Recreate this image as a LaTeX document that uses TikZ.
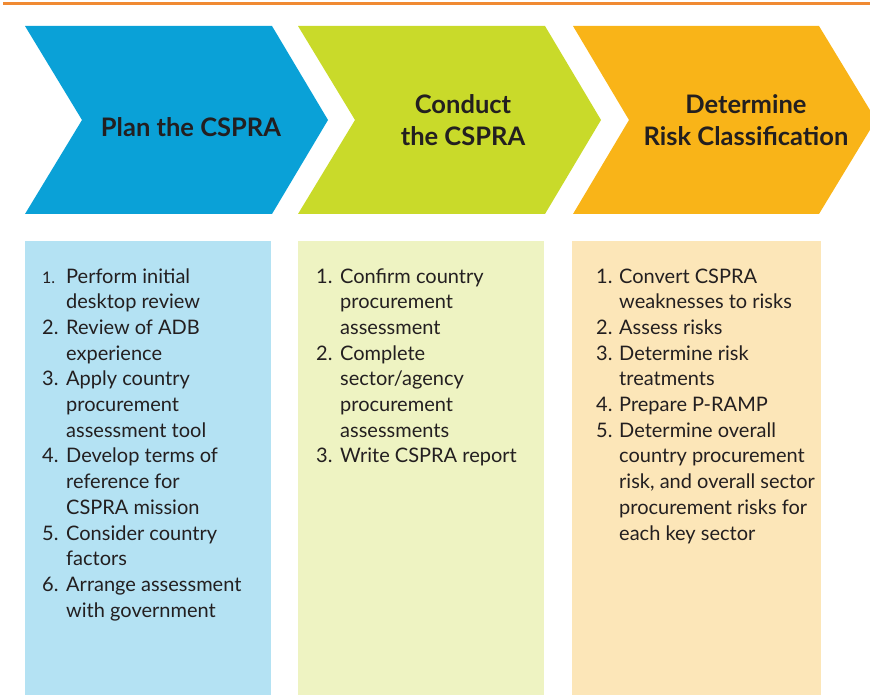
\documentclass[tikz,border=0pt]{standalone}
\usepackage{fontspec}
\setmainfont{Lato}
\definecolor{topline}{HTML}{F08A33}
\definecolor{cblue}{HTML}{0AA1D7}
\definecolor{cgreen}{HTML}{C9DA2A}
\definecolor{corange}{HTML}{F9B418}
\definecolor{lblue}{HTML}{B4E2F3}
\definecolor{lgreen}{HTML}{EEF3C2}
\definecolor{lorange}{HTML}{FCE6B8}
\definecolor{ink}{HTML}{231F20}
\begin{document}
\begin{tikzpicture}[x=1pt,y=-1pt,
  head/.style={align=center,text=ink,font=\bfseries\fontsize{25.5}{32}\selectfont,inner sep=0},
  listtext/.style={anchor=base west,inner sep=0,text=ink,font=\fontsize{20}{25.7}\selectfont}]
\useasboundingbox (0,0) rectangle (870,695);
\clip (0,0) rectangle (870,695);
\fill[topline] (3,2.5) rectangle (870,5.5);
% chevrons
\fill[cblue] (25,26) -- (272,26) -- (328,120) -- (272,214) -- (25,214) -- (82,120) -- cycle;
\fill[cgreen] (298,26) -- (545,26) -- (601,120) -- (545,214) -- (298,214) -- (355,120) -- cycle;
\fill[corange] (573,26) -- (819,26) -- (876,120) -- (819,214) -- (573,214) -- (629,120) -- cycle;
% boxes
\fill[lblue] (25,241) rectangle (271,700);
\fill[lgreen] (298,241) rectangle (544,700);
\fill[lorange] (572,241) rectangle (821,700);
% headings
\node[head] (h1) at (191,127) {Plan the CSPRA};
\node[head] (h2) at (463,120) {Conduct\\the CSPRA};
\node[head] (h3) at (746,120) {Determine\\Risk Classification};
% lists
\node[listtext] (l1) at (42,283) {\begin{tabular}[t]{@{}l@{}l@{}}
\makebox[24pt][l]{{\fontsize{16}{16}\selectfont 1.}} & Perform initial\\
 & desktop review\\
\makebox[24pt][l]{2.} & Review of ADB\\
 & experience\\
\makebox[24pt][l]{3.} & Apply country\\
 & procurement\\
 & assessment tool\\
\makebox[24pt][l]{4.} & Develop terms of\\
 & reference for\\
 & CSPRA mission\\
\makebox[24pt][l]{5.} & Consider country\\
 & factors\\
\makebox[24pt][l]{6.} & Arrange assessment\\
 & with government
\end{tabular}};
\node[listtext] (l2) at (316,283) {\begin{tabular}[t]{@{}l@{}l@{}}
\makebox[24pt][l]{1.} & Confirm country\\
 & procurement\\
 & assessment\\
\makebox[24pt][l]{2.} & Complete\\
 & sector/agency\\
 & procurement\\
 & assessments\\
\makebox[24pt][l]{3.} & Write CSPRA report
\end{tabular}};
\node[listtext] (l3) at (596,283) {\begin{tabular}[t]{@{}l@{}l@{}}
\makebox[23pt][l]{1.} & Convert CSPRA\\
 & weaknesses to risks\\
\makebox[23pt][l]{2.} & Assess risks\\
\makebox[23pt][l]{3.} & Determine risk\\
 & treatments\\
\makebox[23pt][l]{4.} & Prepare P-RAMP\\
\makebox[23pt][l]{5.} & Determine overall\\
 & country procurement\\
 & risk, and overall sector\\
 & procurement risks for\\
 & each key sector
\end{tabular}};
\end{tikzpicture}
\end{document}
